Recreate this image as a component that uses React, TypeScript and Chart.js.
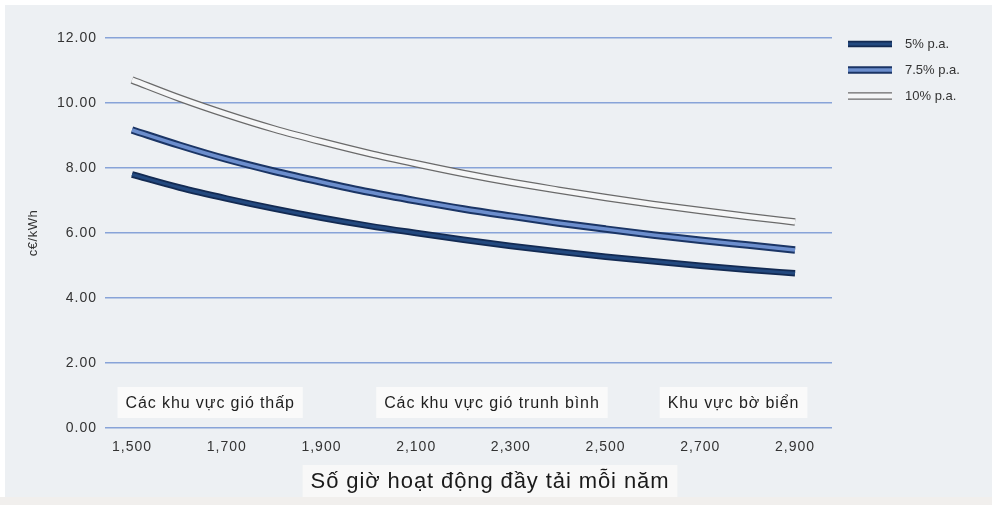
import React, { useEffect, useRef } from "react";
import { Chart, registerables } from "chart.js";

Chart.register(...registerables);

// Full-load hours per year
const hours = [1500, 1600, 1700, 1800, 1900, 2000, 2100, 2200, 2300, 2400, 2500, 2600, 2700, 2800, 2900];

// Generation cost in c€/kWh at each interest rate
const rate5 = [7.8, 7.4, 7.06, 6.75, 6.47, 6.22, 6.0, 5.79, 5.6, 5.43, 5.27, 5.13, 4.99, 4.87, 4.76];
const rate75 = [9.17, 8.7, 8.27, 7.9, 7.57, 7.26, 6.99, 6.74, 6.52, 6.31, 6.12, 5.94, 5.78, 5.63, 5.48];
const rate10 = [10.71, 10.15, 9.65, 9.2, 8.81, 8.45, 8.13, 7.83, 7.56, 7.32, 7.09, 6.88, 6.69, 6.51, 6.34];

const seriesNames = ["5% p.a.", "7.5% p.a.", "10% p.a."];
const xTicks = [1500, 1700, 1900, 2100, 2300, 2500, 2700, 2900];
const yTicks = [0, 2, 4, 6, 8, 10, 12];

const regionLabels = ["Các khu vực gió thấp", "Các khu vực gió trunh bình", "Khu vực bờ biển"];
const xTitle = "Số giờ hoạt động đầy tải mỗi năm";
const yTitle = "c€/kWh";

const SANS = '"Liberation Sans", Arial, sans-serif';

const pts = (vals: number[]) => hours.map((h, i) => ({ x: h, y: vals[i] }));

// Two stacked strokes give the cased / double-line look of each curve
const line = (vals: number[], color: string, width: number) => ({
  data: pts(vals),
  borderColor: color,
  borderWidth: width,
  pointRadius: 0,
  tension: 0.4,
  cubicInterpolationMode: "monotone" as const,
  fill: false,
  borderCapStyle: "butt" as const,
});

const styles = [
  { outer: "#132a52", outerW: 6.5, inner: "#23497f", innerW: 3 },
  { outer: "#1b3565", outerW: 7.5, inner: "#6c8ecd", innerW: 3.5 },
  { outer: "#6a6a6a", outerW: 7.5, inner: "#f5f6f7", innerW: 5 },
];

const decorations = {
  id: "decorations",
  beforeDraw(chart: any) {
    const { ctx, width, height } = chart;
    ctx.save();
    ctx.fillStyle = "#f1efed";
    ctx.fillRect(0, 0, width, height);
    ctx.fillStyle = "#ffffff";
    ctx.fillRect(0, 0, width, 5);
    ctx.fillRect(0, 0, 5, 497);
    ctx.fillStyle = "#edf0f3";
    ctx.fillRect(5, 5, width - 5, 492);
    ctx.restore();
    // slightly tracked tick labels
    (ctx as any).letterSpacing = "1px";
  },
  beforeDatasetsDraw(chart: any) {
    (chart.ctx as any).letterSpacing = "0px";
  },
  afterDraw(chart: any) {
    const { ctx } = chart;
    const xs = chart.scales.x;
    ctx.save();

    // Wind-site region captions sitting above the baseline
    const regionAt = [1665, 2260, 2770];
    ctx.font = `16px ${SANS}`;
    (ctx as any).letterSpacing = "0.9px";
    ctx.textBaseline = "middle";
    ctx.textAlign = "center";
    regionLabels.forEach((t, i) => {
      const cx = xs.getPixelForValue(regionAt[i]);
      const w = ctx.measureText(t).width + 16;
      ctx.fillStyle = "#fafafa";
      ctx.fillRect(cx - w / 2, 387, w, 31);
      ctx.fillStyle = "#1e1e1e";
      ctx.fillText(t, cx, 404);
    });

    // Axis titles
    ctx.font = `22px ${SANS}`;
    (ctx as any).letterSpacing = "0.9px";
    const tw = ctx.measureText(xTitle).width + 16;
    ctx.fillStyle = "#f8f8f8";
    ctx.fillRect(490 - tw / 2, 465, tw, 32);
    ctx.fillStyle = "#1a1a1a";
    ctx.fillText(xTitle, 490, 482);

    (ctx as any).letterSpacing = "0.5px";
    ctx.save();
    ctx.translate(33, 233);
    ctx.rotate(-Math.PI / 2);
    ctx.font = `13px ${SANS}`;
    ctx.fillStyle = "#333";
    ctx.fillText(yTitle, 0, 0);
    ctx.restore();

    // Legend
    (ctx as any).letterSpacing = "0px";
    const ly = [44, 70, 96];
    seriesNames.forEach((name, i) => {
      const s = styles[i];
      const y = ly[i];
      ctx.lineCap = "butt";
      ctx.strokeStyle = s.outer;
      ctx.lineWidth = s.outerW;
      ctx.beginPath();
      ctx.moveTo(848, y);
      ctx.lineTo(892, y);
      ctx.stroke();
      ctx.strokeStyle = s.inner;
      ctx.lineWidth = s.innerW;
      ctx.beginPath();
      ctx.moveTo(848, y);
      ctx.lineTo(892, y);
      ctx.stroke();
      ctx.font = `13px ${SANS}`;
      ctx.textAlign = "left";
      ctx.fillStyle = "#333";
      ctx.fillText(name, 905, y);
    });
    ctx.restore();
  },
};

export default function App() {
  const ref = useRef<HTMLCanvasElement | null>(null);

  useEffect(() => {
    if (!ref.current) return;
    // Chart.js paints the first dataset last, so each inner stroke precedes its casing
    const chart = new Chart(ref.current, {
      type: "line",
      data: {
        datasets: [
          line(rate5, styles[0].inner, styles[0].innerW),
          line(rate5, styles[0].outer, styles[0].outerW),
          line(rate75, styles[1].inner, styles[1].innerW),
          line(rate75, styles[1].outer, styles[1].outerW),
          line(rate10, styles[2].inner, styles[2].innerW),
          line(rate10, styles[2].outer, styles[2].outerW),
        ] as any,
      },
      options: {
        responsive: false,
        animation: false,
        layout: { padding: { left: 0, top: 38, right: 160, bottom: 0 } },
        plugins: { legend: { display: false }, tooltip: { enabled: false } },
        scales: {
          x: {
            type: "linear",
            min: 1443,
            max: 2978,
            afterFit: (s: any) => {
              s.height = 77;
            },
            afterBuildTicks: (s: any) => {
              s.ticks = xTicks.map((v) => ({ value: v }));
            },
            grid: { display: false, drawTicks: false },
            border: { display: false },
            ticks: {
              padding: 11,
              color: "#333",
              font: { family: SANS, size: 14 },
              callback: (v: any) => Number(v).toLocaleString("en-US"),
            },
          },
          y: {
            min: 0,
            max: 12,
            afterFit: (s: any) => {
              s.width = 105;
            },
            afterBuildTicks: (s: any) => {
              s.ticks = yTicks.map((v) => ({ value: v }));
            },
            grid: { color: "#88a3d8", lineWidth: 1.5, drawTicks: false },
            border: { display: false },
            ticks: {
              padding: 8,
              color: "#333",
              font: { family: SANS, size: 14 },
              callback: (v: any) => Number(v).toFixed(2),
            },
          },
        },
      },
      plugins: [decorations],
    });
    return () => chart.destroy();
  }, []);

  return (
    <div style={{ position: "absolute", left: 0, top: 0, width: 992, height: 505 }}>
      <canvas ref={ref} width={992} height={505} />
    </div>
  );
}
